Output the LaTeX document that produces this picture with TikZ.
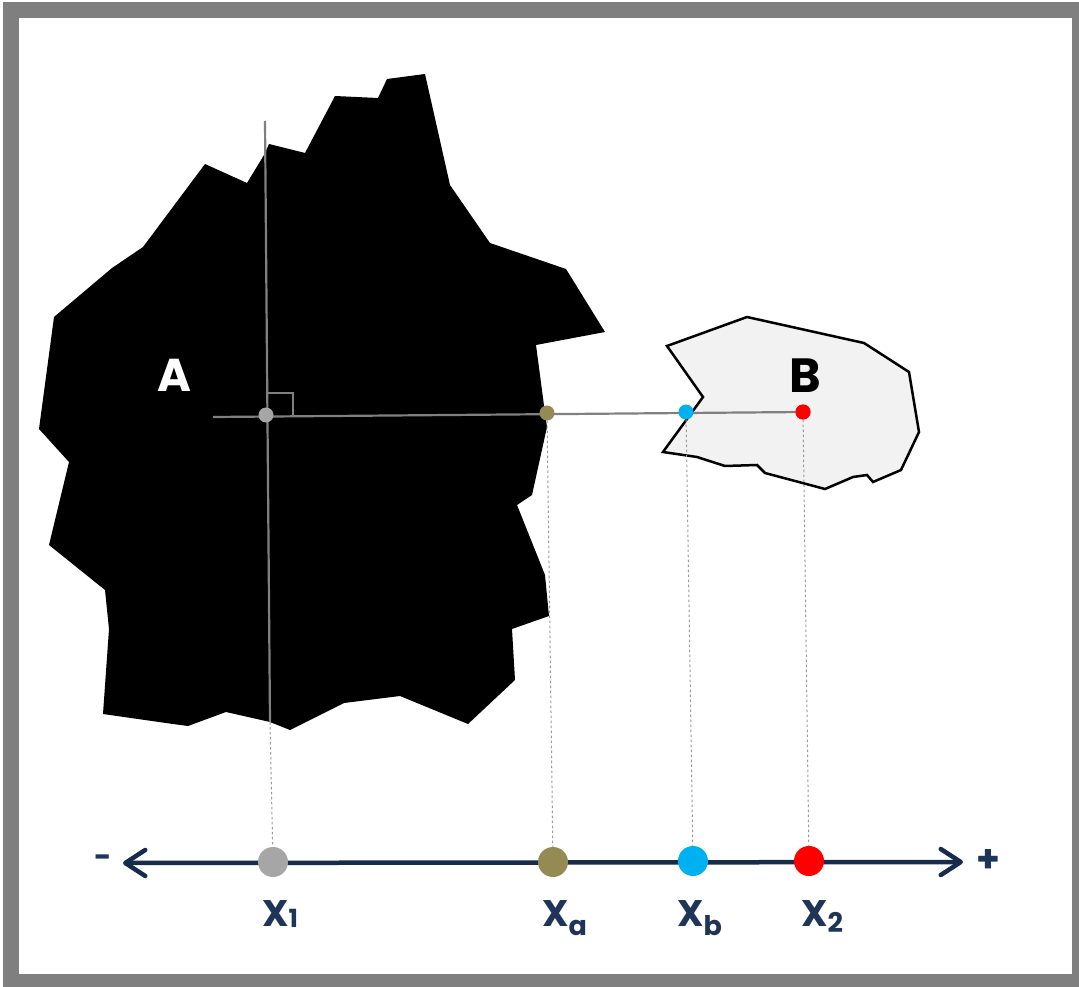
\documentclass[tikz,border=0pt]{standalone}
\usepackage{fontspec}
\setmainfont{Poppins}
\usetikzlibrary{arrows.meta}
\definecolor{navy}{HTML}{172B4A}
\definecolor{lblcol}{HTML}{1F3558}
\definecolor{frame}{HTML}{7F7F7F}
\definecolor{lgray}{HTML}{808080}
\definecolor{dgray}{HTML}{9A9A9A}
\definecolor{dotgray}{HTML}{A6A6A6}
\definecolor{olive}{HTML}{948A54}
\definecolor{cyanb}{HTML}{00B0F0}
\definecolor{redd}{HTML}{FF0000}
\definecolor{bfill}{HTML}{F2F2F2}
\tikzset{
  smalldot/.style={circle,inner sep=0pt,minimum size=15pt,draw=none},
  bigdot/.style={circle,inner sep=0pt,minimum size=30pt,draw=none},
  guide/.style={draw=lgray,line width=2.2pt},
  proj/.style={draw=dgray,line width=1pt,dash pattern=on 2.5pt off 2.5pt},
  axisline/.style={draw=navy,line width=4.5pt,
    arrows={Straight Barb[length=20pt,width=26pt,line cap=round,line join=round]-Straight Barb[length=20pt,width=26pt,line cap=round,line join=round]}},
  xlabel/.style={text=lblcol,font=\fontsize{37}{38}\selectfont\bfseries,inner sep=0pt,anchor=base west}
}
\begin{document}
\begin{tikzpicture}[x=1pt,y=-1pt]
\useasboundingbox (0,0) rectangle (1079,987);
% frame
\fill[frame] (3,2) rectangle (1079,987);
\fill[white] (19,18) rectangle (1072,974);
% shape A
\fill[black] (387,79) -- (425,74) -- (450,185) -- (490,243) -- (566,269) -- (605,332)
  -- (536,345) -- (545,413) -- (547,427) -- (532,495) -- (517,505) -- (545,575)
  -- (549,616) -- (512,629) -- (515,680) -- (468,724) -- (400,696) -- (344,703)
  -- (290,730) -- (270,722) -- (226,712) -- (188,726) -- (173,724) -- (103,714)
  -- (109,629) -- (105,590) -- (49,545) -- (69,462) -- (39,429) -- (54,317)
  -- (112,268) -- (143,247) -- (205,164) -- (247,183) -- (264,155) -- (269,144)
  -- (305,153) -- (335,96) -- (378,98) -- cycle;
% shape B
\filldraw[fill=bfill,draw=black,line width=2.5pt,line join=miter]
  (667,346) -- (747,317) -- (864,343) -- (909,372) -- (919,432) -- (901,470)
  -- (873,482) -- (867,475) -- (853,477) -- (825,489) -- (765,473) -- (757,465)
  -- (725,466) -- (697,457) -- (663,452) -- (703,397) -- cycle;
% labels of shapes
\node[text=white,font=\fontsize{46}{48}\selectfont\bfseries,inner sep=0pt] (labA) at (174,375) {A};
\node[text=black,font=\fontsize{48}{50}\selectfont\bfseries,inner sep=0pt] (labB) at (805,376) {B};
% construction lines
\coordinate (vtop) at (265,121);
\coordinate (vbot) at (270,722);
\coordinate (hleft) at (213,417);
\coordinate (sq1) at (267,393);
\coordinate (sq2) at (293,393);
\coordinate (sq3) at (293,416);
\draw[guide] (vtop) -- (vbot);
\node[smalldot,fill=redd] (pr) at (803,412) {};
\draw[guide] (hleft) -- (pr.center);
\draw[draw=lgray,line width=1.3pt] (sq1) -- (sq2) -- (sq3);
\node[smalldot,fill=dotgray] (pg) at (266,415) {};
\node[smalldot,fill=olive] (pa) at (547,413) {};
\node[smalldot,fill=cyanb] (pb) at (686,412) {};
\node[smalldot,fill=redd] (pr2) at (803,412) {};
% axis
\coordinate (aleft) at (123,863);
\coordinate (aright) at (963,862);
\draw[axisline] (aleft) -- (aright);
\node[bigdot,fill=dotgray] (x1) at (273,862) {};
\node[bigdot,fill=olive] (xa) at (553,862) {};
\node[bigdot,fill=cyanb] (xb) at (693,861) {};
\node[bigdot,fill=redd] (x2) at (809,861) {};
% projections
\draw[proj] (vbot) -- (x1);
\draw[proj] (pa) -- (xa);
\draw[proj] (pb) -- (xb);
\draw[proj] (pr2) -- (x2);
% axis labels
\node[text=lblcol,font=\fontsize{30}{30}\selectfont\bfseries,inner sep=0pt] (minus) at (103,861) {-};
\node[text=lblcol,font=\fontsize{38}{38}\selectfont\bfseries,inner sep=0pt] (plus) at (988,861) {+};
\node[xlabel] (l1) at (262,926) {X\raisebox{-1pt}{\fontsize{25}{26}\selectfont 1}};
\node[xlabel] (la) at (542,926) {X\raisebox{-9pt}{\fontsize{27}{27}\selectfont a}};
\node[xlabel] (lb) at (677,926) {X\raisebox{-9pt}{\fontsize{27}{27}\selectfont b}};
\node[xlabel] (l2) at (801,926) {X\raisebox{-6pt}{\fontsize{27}{27}\selectfont 2}};
\end{tikzpicture}
\end{document}
